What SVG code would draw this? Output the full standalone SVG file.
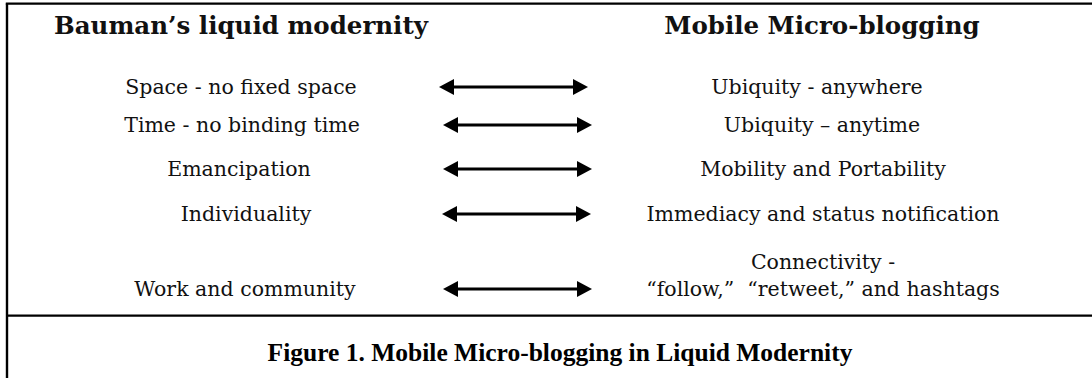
<svg xmlns="http://www.w3.org/2000/svg" width="1092" height="378" viewBox="0 0 1092 378">
  <style>
    .frame { stroke: #000; stroke-width: 2.4; fill: none; }
    .head { font-family: "DejaVu Serif", "Liberation Serif", serif; font-weight: bold; font-size: 24.5px; fill: #111; text-anchor: middle; }
    .item { font-family: "DejaVu Serif", "Liberation Serif", serif; font-size: 20.5px; fill: #111; text-anchor: middle; }
    .cap { font-family: "Liberation Serif", serif; font-weight: bold; font-size: 25.5px; fill: #000; text-anchor: middle; }
    .arrow { stroke: #000; stroke-width: 3.2; fill: none; marker-start: url(#ah); marker-end: url(#ah); }
  </style>
  <defs>
    <marker id="ah" viewBox="0 0 15 16" refX="4" refY="8" markerWidth="15" markerHeight="16" markerUnits="userSpaceOnUse" orient="auto-start-reverse">
      <path d="M0,0 L15,8 L0,16 z" fill="#000"/>
    </marker>
  </defs>
  <rect width="1092" height="378" fill="#fff"/>
  <g id="frame">
    <line class="frame" x1="5.8" y1="3.6" x2="1092" y2="3.6"/>
    <line class="frame" x1="7" y1="3.6" x2="7" y2="378"/>
    <line class="frame" x1="7" y1="315.6" x2="1092" y2="315.6"/>
  </g>
  <g id="left-title"><text class="head" x="241" y="34">Bauman’s liquid modernity</text></g>
  <g id="right-title"><text class="head" x="822" y="34">Mobile Micro-blogging</text></g>
  <g id="left-1"><text class="item" x="241" y="94">Space - no fixed space</text></g>
  <g id="left-2"><text class="item" x="242" y="132">Time - no binding time</text></g>
  <g id="left-3"><text class="item" x="239" y="176">Emancipation</text></g>
  <g id="left-4"><text class="item" x="246" y="221">Individuality</text></g>
  <g id="left-5"><text class="item" x="245" y="296">Work and community</text></g>
  <g id="right-1"><text class="item" x="817" y="94">Ubiquity - anywhere</text></g>
  <g id="right-2"><text class="item" x="822" y="132">Ubiquity – anytime</text></g>
  <g id="right-3"><text class="item" x="823" y="176">Mobility and Portability</text></g>
  <g id="right-4"><text class="item" x="823" y="221">Immediacy and status notification</text></g>
  <g id="right-5"><text class="item" x="823" y="269">Connectivity -</text><text class="item" x="823" y="296" xml:space="preserve">“follow,”  “retweet,” and hashtags</text></g>
  <g id="connectors">
    <line class="arrow" x1="450" y1="87" x2="577" y2="87"/>
    <line class="arrow" x1="454" y1="125" x2="581" y2="125"/>
    <line class="arrow" x1="454" y1="169" x2="581" y2="169"/>
    <line class="arrow" x1="453" y1="214" x2="580" y2="214"/>
    <line class="arrow" x1="454" y1="289" x2="581" y2="289"/>
  </g>
  <g id="caption"><text class="cap" x="560" y="361">Figure 1. Mobile Micro-blogging in Liquid Modernity</text></g>
</svg>
